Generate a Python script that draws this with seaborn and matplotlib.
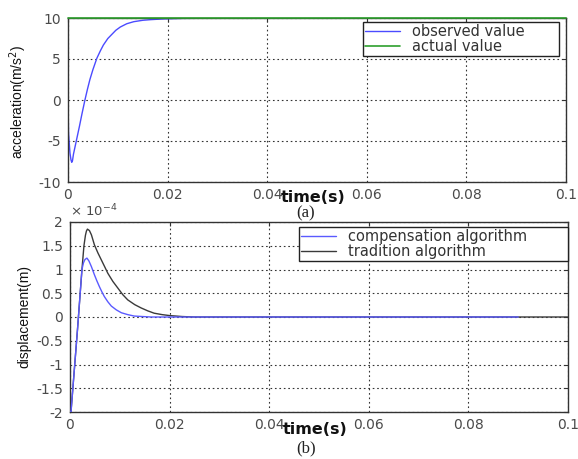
import matplotlib
matplotlib.use("Agg")
import numpy as np
import pandas as pd
import seaborn as sns
import matplotlib.pyplot as plt
from matplotlib.ticker import FixedLocator, FuncFormatter
from matplotlib import font_manager

# ---------------- data ----------------
time_ticks = [0, 0.02, 0.04, 0.06, 0.08, 0.1]
acc_ticks = [-10, -5, 0, 5, 10]
disp_ticks = [-2e-4, -1.5e-4, -1e-4, -0.5e-4, 0, 0.5e-4, 1e-4, 1.5e-4, 2e-4]

t_obs = [0, 0.0001, 0.0004, 0.0006, 0.00075, 0.0009, 0.0011, 0.0017, 0.0023, 0.0028, 0.0034,
         0.0039, 0.0044, 0.005, 0.0058, 0.0065, 0.0071, 0.008, 0.0088, 0.0096, 0.0105,
         0.0118, 0.0132, 0.015, 0.0166, 0.019, 0.023, 0.03, 0.05, 0.1]
acc_obs = [0, -4.0, -6.5, -7.3, -7.6, -7.4, -6.6, -4.9, -3.2, -1.7, 0.0,
           1.3, 2.5, 3.7, 5.1, 6.0, 6.7, 7.5, 8.0, 8.5, 8.9,
           9.3, 9.55, 9.72, 9.8, 9.88, 9.95, 9.98, 10.0, 10.0]

t_act = [0, 0.1]
acc_act = [10, 10]

t_comp = [0, 0.0002, 0.0015, 0.0024, 0.0027, 0.003, 0.0034, 0.0038, 0.0043, 0.0049, 0.0054,
          0.0059, 0.0064, 0.0069, 0.0076, 0.0083, 0.0093, 0.0103, 0.0116, 0.0129, 0.0145,
          0.0163, 0.03, 0.06, 0.09]
disp_comp = [-2.0e-4, -2.0e-4, -0.27e-4, 1.0e-4, 1.14e-4, 1.21e-4, 1.24e-4, 1.18e-4, 1.06e-4, 0.89e-4, 0.76e-4,
             0.64e-4, 0.53e-4, 0.43e-4, 0.32e-4, 0.23e-4, 0.15e-4, 0.09e-4, 0.05e-4, 0.02e-4, 0.01e-4,
             0.0, 0.0, 0.0, 0.0]

t_trad = [0, 0.0002, 0.0015, 0.0024, 0.0028, 0.0031, 0.0033, 0.0035, 0.0039, 0.0043, 0.0049,
          0.0056, 0.0063, 0.007, 0.0076, 0.0086, 0.0096, 0.0106, 0.0116, 0.013, 0.0143,
          0.0156, 0.0169, 0.0185, 0.02, 0.0225, 0.025, 0.05, 0.1]
disp_trad = [-2.0e-4, -2.0e-4, -0.27e-4, 1.0e-4, 1.5e-4, 1.72e-4, 1.81e-4, 1.85e-4, 1.82e-4, 1.73e-4, 1.52e-4,
             1.35e-4, 1.2e-4, 1.05e-4, 0.92e-4, 0.75e-4, 0.61e-4, 0.47e-4, 0.36e-4, 0.26e-4, 0.19e-4,
             0.13e-4, 0.08e-4, 0.05e-4, 0.03e-4, 0.01e-4, 0.0, 0.0, 0.0]

# ---------------- style ----------------
sns.set_style("white")
plt.rcParams["font.family"] = ["DejaVu Sans"]
available = {f.name for f in font_manager.fontManager.ttflist}
if "Liberation Sans Narrow" in available:
    lab_family, lab_size = "Liberation Sans Narrow", 12
else:
    lab_family, lab_size = "Liberation Sans", 10
serif_family = "Liberation Serif" if "Liberation Serif" in available else "DejaVu Serif"

W, H = 578, 459
fig = plt.figure(figsize=(W / 100, H / 100), dpi=100)
fig.patch.set_facecolor("white")

def px_axes(left, top, right, bottom):
    return fig.add_axes([left / W, 1 - bottom / H, (right - left) / W, (bottom - top) / H])

ax1 = px_axes(68, 18, 566, 182)
ax2 = px_axes(70, 222, 568, 412)

tick_color = "#4a4a4a"
fmt = FuncFormatter(lambda v, p: "%g" % v)

def style_axes(ax):
    ax.set_xlim(0, 0.1)
    ax.xaxis.set_major_locator(FixedLocator(time_ticks))
    ax.xaxis.set_major_formatter(fmt)
    ax.grid(True, color="#333333", linestyle=(0, (1.5, 2.5)), linewidth=0.8)
    ax.tick_params(direction="in", length=3, width=0.8, top=True, right=True,
                   labelsize=10, labelcolor=tick_color, colors="#333333")
    ax.tick_params(axis="x", pad=4)
    ax.tick_params(axis="y", pad=5)
    for s in ax.spines.values():
        s.set_color("#333333")
        s.set_linewidth(1.0)
    ax.set_xlabel("")

def make_legend(ax, x0, width, top):
    leg = ax.legend(loc="upper right", bbox_to_anchor=(x0, 0, width, top), mode="expand",
                    borderaxespad=0, fontsize=10.5, frameon=True, fancybox=False,
                    framealpha=1, edgecolor="#222222", handlelength=2.4,
                    handletextpad=0.8, labelspacing=0.0, borderpad=0.15)
    leg.get_frame().set_linewidth(1.0)
    for tx in leg.get_texts():
        tx.set_color("#333333")
    return leg

# ---- top panel ----
sns.lineplot(x=t_obs, y=acc_obs, ax=ax1, color="#4b4bff", linewidth=1.0,
             label="observed value", estimator=None, sort=False)
sns.lineplot(x=t_act, y=acc_act, ax=ax1, color="#2ea02e", linewidth=1.2,
             label="actual value", estimator=None, sort=False)
ax1.lines[-1].set_clip_on(False)
ax1.lines[-1].set_zorder(3)
ax1.set_ylim(-10, 10)
ax1.yaxis.set_major_locator(FixedLocator(acc_ticks))
ax1.yaxis.set_major_formatter(fmt)
style_axes(ax1)
ax1.set_ylabel("acceleration(m/s$^2$)", family=lab_family, fontsize=lab_size, color="#111111")
ax1.yaxis.set_label_coords(-0.078, 0.49)
make_legend(ax1, 0.592, 0.394, 0.976)

# ---- bottom panel ----
sns.lineplot(x=t_comp, y=disp_comp, ax=ax2, color="#5a5aff", linewidth=1.0,
             label="compensation algorithm", estimator=None, sort=False)
sns.lineplot(x=t_trad, y=disp_trad, ax=ax2, color="#3a3a3a", linewidth=1.0,
             label="tradition algorithm", estimator=None, sort=False)
ax2.lines[0].set_zorder(3)
ax2.set_ylim(-2e-4, 2e-4)
ax2.yaxis.set_major_locator(FixedLocator(disp_ticks))
ax2.yaxis.set_major_formatter(FuncFormatter(lambda v, p: "%g" % round(v / 1e-4, 2)))
style_axes(ax2)
ax2.set_ylabel("displacement(m)", family=lab_family, fontsize=lab_size, color="#111111")
ax2.yaxis.set_label_coords(-0.078, 0.5)
ax2.text(0.0, 1.012, "\u00d7 10$^{-4}$", transform=ax2.transAxes, ha="left", va="bottom",
         fontsize=9.5, color=tick_color)
make_legend(ax2, 0.46, 0.54, 0.974)

# ---- axis titles and captions ----
fig.text(313 / W, 1 - 197 / H, "time(s)", ha="center", va="center",
         fontsize=11.5, fontweight="bold", color="#111111")
fig.text(306 / W, 1 - 213 / H, "(a)", ha="center", va="center",
         family=serif_family, fontsize=12, color="#222222")
fig.text(315 / W, 1 - 430 / H, "time(s)", ha="center", va="center",
         fontsize=11.5, fontweight="bold", color="#111111")
fig.text(306 / W, 1 - 448 / H, "(b)", ha="center", va="center",
         family=serif_family, fontsize=12, color="#222222")

fig.savefig("out.png", dpi=100, facecolor="white")
